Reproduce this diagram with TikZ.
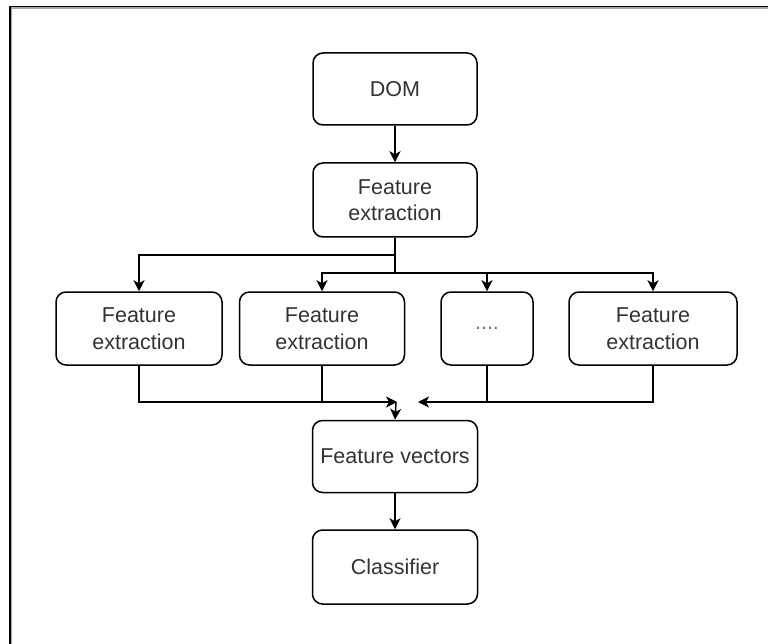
\documentclass[tikz,border=0pt]{standalone}
\usepackage{fontspec}
\setmainfont{Liberation Sans}
\usetikzlibrary{arrows.meta}
\definecolor{txt}{HTML}{333333}
\tikzset{
  box/.style={draw, line width=1.5pt, rounded corners=10pt, align=center,
    text=txt, font=\fontsize{21.5}{26.5}\selectfont, inner sep=0pt},
  link/.style={line width=1.5pt},
  arr/.style={line width=1.5pt, -{Stealth[length=11pt,width=11pt,inset=3pt]}},
}
\begin{document}
\begin{tikzpicture}[x=1pt,y=-1pt]
  \useasboundingbox (0,0) rectangle (768,644);
  % frame edges along the left and top
  \fill[black] (9,5.7) rectangle (768,7.3);
  \fill[black!35] (10.7,7.3) rectangle (768,8.7);
  \fill[black] (9,5.7) rectangle (10.7,644);
  \fill[black!35] (10.7,7.3) rectangle (12,644);

  % boxes
  \node[box, minimum width=164pt, minimum height=72pt] (dom) at (395,89) {DOM};
  \node[box, minimum width=164pt, minimum height=74pt] (fe) at (395,200) {Feature\\extraction};
  \node[box, minimum width=166pt, minimum height=73pt] (f1) at (139,328.5) {Feature\\extraction};
  \node[box, minimum width=165pt, minimum height=73pt] (f2) at (322,328.5) {Feature\\extraction};
  \node[box, minimum width=92pt, minimum height=73pt, text=black!55] (f3) at (487,328.5) {....};
  \node[box, minimum width=168pt, minimum height=73pt] (f4) at (653,328.5) {Feature\\extraction};
  \node[box, minimum width=165pt, minimum height=72pt] (fv) at (395,456.5) {Feature vectors};
  \node[box, minimum width=165pt, minimum height=74pt] (cl) at (395,567) {Classifier};

  % junction points
  \coordinate (j1) at (395,255);
  \coordinate (j2) at (395,273);
  \coordinate (mL) at (397,402);
  \coordinate (mR) at (418,402);
  \coordinate (mC) at (396,402);

  % fan-out
  \draw[arr] (dom) -- (fe);
  \draw[link] (fe.south) -- (j2);
  \draw[arr] (j1) -| (f1.north);
  \draw[arr] (j2) -| (f2.north);
  \draw[arr] (j2) -| (f3.north);
  \draw[arr] (j2) -| (f4.north);

  % fan-in
  \draw[arr] (f1.south) |- (mL);
  \draw[link] (f2.south) -- (f2.south |- mL);
  \draw[arr] (f4.south) |- (mR);
  \draw[link] (f3.south) -- (f3.south |- mR);
  \draw[arr] (mC) -- (fv.north);
  \draw[arr] (fv) -- (cl);
\end{tikzpicture}
\end{document}
